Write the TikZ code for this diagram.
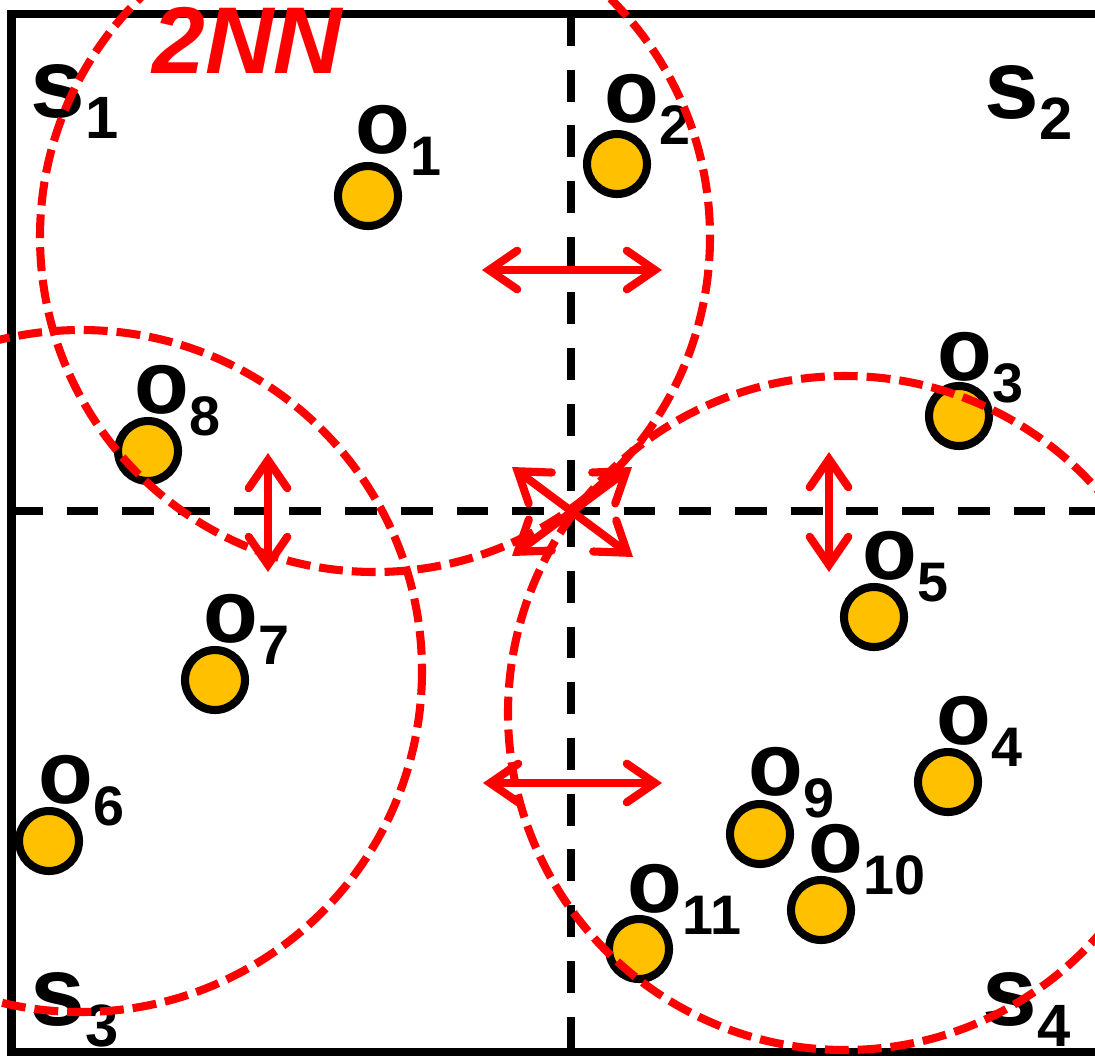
\documentclass[tikz,border=0pt]{standalone}
\usepackage{fontspec}
\setmainfont{Liberation Sans}
\definecolor{gold}{HTML}{FFC000}
\definecolor{nnred}{HTML}{FF0000}
\usepackage{tikz}
\usetikzlibrary{arrows.meta}

\newcommand{\olab}[1]{o\raisebox{-0.44cm}{\fontsize{31.7}{32}\selectfont #1}}
\newcommand{\slab}[1]{s\raisebox{-0.42cm}{\fontsize{34}{34}\selectfont #1}}

\begin{document}
\begin{tikzpicture}[
  x=0.02cm, y=-0.02cm,
  obj/.style={circle, draw=black, line width=4.6pt, fill=gold, minimum size=1.2cm, inner sep=0pt},
  olab/.style={anchor=base west, inner sep=0pt, font=\fontsize{51}{51}\selectfont\bfseries},
  slabel/.style={anchor=base west, inner sep=0pt, font=\fontsize{56}{56}\selectfont\bfseries},
  grid/.style={line width=4.6pt, dash pattern=on 18.1pt off 13.6pt},
  nnring/.style={nnred, line width=4.6pt, dash pattern=on 13.6pt off 5.1pt},
  biarrow/.style={nnred, line width=4.6pt, {Straight Barb[length=16pt, width=22pt, line cap=round, line join=miter]}-{Straight Barb[length=16pt, width=22pt, line cap=round, line join=miter]}},
]
\useasboundingbox (0,0) rectangle (1095,1056);
\clip (0,0) rectangle (1095,1056);

% Space and its split
\draw[line width=4.6pt] (1120,14) -- (11.5,14) -- (11.5,1052) -- (1120,1052);
\draw[grid] (11,511) -- (1110,511);
\draw[grid] (571,14) -- (571,1070);

% Subspace names
\node[slabel] (s1) at (30,117) {\slab{1}};
\node[slabel] (s2) at (984,118) {\slab{2}};
\node[slabel] (s3) at (30,1025) {\slab{3}};
\node[slabel] (s4) at (982,1025) {\slab{4}};

% Objects
\foreach \i/\cx/\cy/\lx/\ly in {1/368/196/355.5/153, 2/617/164/604.5/122, 3/959/416/937.5/380,
    4/948/782/936.5/744, 5/874/617/862.5/579, 6/49/841/38.5/803, 7/215/680/203.5/642,
    8/148/451/134.5/413, 9/760/834/748.5/795, 10/821/910/808.5/872, 11/639/949/627.5/912} {
  \node[obj] (o\i) at (\cx,\cy) {};
  \node[olab] (l\i) at (\lx,\ly) {\olab{\i}};
}

% Arrows across the borders
\coordinate (a1w) at (482,270);  \coordinate (a1e) at (662,270);
\coordinate (a2n) at (268,453);  \coordinate (a2s) at (268,572);
\coordinate (a3n) at (829,452);  \coordinate (a3s) at (829,572);
\coordinate (a4w) at (483,783);  \coordinate (a4e) at (662,783);
\coordinate (a5nw) at (512,467); \coordinate (a5se) at (633,557);
\coordinate (a6sw) at (512,556); \coordinate (a6ne) at (632,467);
\draw[biarrow] (a1w) -- (a1e);
\draw[biarrow] (a2n) -- (a2s);
\draw[biarrow] (a3n) -- (a3s);
\draw[biarrow] (a4w) -- (a4e);
\draw[biarrow] (a5nw) -- (a5se);
\draw[biarrow] (a6sw) -- (a6ne);

% 2NN rings
\draw[nnring] (375,237) circle[radius=335];
\draw[nnring] (81,671) circle[radius=341];
\draw[nnring] (845,713) circle[radius=337];
\node[anchor=base west, inner sep=0pt, text=nnred, font=\fontsize{54}{54}\selectfont\bfseries\itshape] (nn) at (152,73) {2NN};
\end{tikzpicture}
\end{document}
